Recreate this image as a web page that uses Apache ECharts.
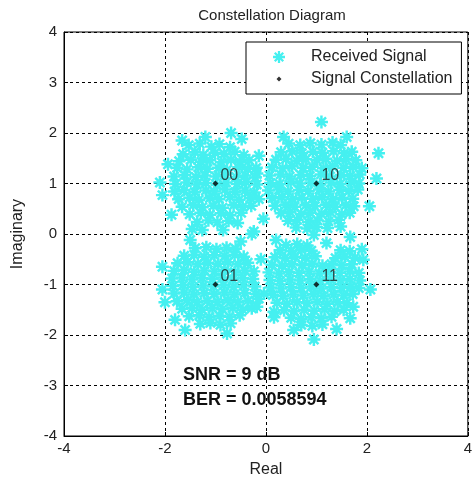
<!DOCTYPE html>
<html>
<head>
<meta charset="utf-8">
<script src="https://cdn.jsdelivr.net/npm/echarts@6/dist/echarts.min.js"></script>
<style>
  html, body { margin: 0; padding: 0; background: #fff; }
  #chart { width: 475px; height: 483px; }
</style>
</head>
<body>
<div id="chart"></div>
<script>
// received symbols
var received00 = [
  [-1.53,1.76],[-1.31,1.79],[-1.08,1.73],[-0.92,1.78],[-0.71,1.72],
  [-1.64,1.58],[-1.41,1.62],[-1.24,1.57],[-1.01,1.61],[-0.83,1.59],[-0.62,1.63],[-0.44,1.56],
  [-1.72,1.44],[-1.49,1.47],[-1.28,1.43],[-1.11,1.46],[-0.88,1.42],[-0.69,1.47],[-0.52,1.43],[-0.33,1.46],
  [-1.76,1.31],[-1.56,1.28],[-1.34,1.32],[-1.16,1.29],[-0.94,1.31],[-0.77,1.27],[-0.54,1.32],[-0.36,1.29],[-0.19,1.31],
  [-1.82,1.14],[-1.61,1.17],[-1.39,1.13],[-1.21,1.16],[-0.99,1.14],[-0.81,1.17],[-0.59,1.13],[-0.41,1.16],[-0.21,1.12],
  [-1.79,0.99],[-1.57,1.02],[-1.37,0.98],[-1.19,1.01],[-0.97,0.97],[-0.79,1.02],[-0.57,0.99],[-0.39,1.03],[-0.18,0.98],
  [-1.81,0.84],[-1.62,0.87],[-1.41,0.83],[-1.19,0.86],[-1.02,0.84],[-0.81,0.88],[-0.61,0.83],[-0.41,0.86],[-0.23,0.82],
  [-1.73,0.69],[-1.51,0.72],[-1.33,0.68],[-1.11,0.71],[-0.93,0.69],[-0.71,0.73],[-0.53,0.68],[-0.31,0.71],
  [-1.66,0.54],[-1.44,0.57],[-1.26,0.53],[-1.04,0.56],[-0.86,0.52],[-0.64,0.57],[-0.46,0.54],[-0.29,0.56],
  [-1.51,0.39],[-1.29,0.42],[-1.11,0.38],[-0.89,0.41],[-0.71,0.37],[-0.49,0.42],
  [-1.36,0.24],[-1.14,0.27],[-0.96,0.23],[-0.74,0.26],[-0.56,0.22],
  [-2.10,1.02],[-2.05,0.77],[-1.87,0.38],[-0.69,2.00],[-1.66,1.85],[-0.24,0.05],[-1.46,0.10],
  [-0.48,1.88],[-0.14,1.55],[-1.94,1.38],[-0.85,0.08],[-1.20,1.92]
];
var received10 = [
  [0.45,1.79],[0.68,1.76],[0.88,1.80],[1.10,1.77],[1.32,1.81],[1.48,1.76],
  [0.30,1.62],[0.52,1.64],[0.71,1.60],[0.93,1.63],[1.12,1.61],[1.34,1.64],[1.55,1.60],[1.70,1.63],
  [0.20,1.47],[0.40,1.49],[0.61,1.45],[0.79,1.48],[1.01,1.46],[1.19,1.49],[1.41,1.45],[1.59,1.48],[1.78,1.46],
  [0.12,1.32],[0.33,1.30],[0.52,1.34],[0.74,1.31],[0.92,1.33],[1.14,1.30],[1.32,1.34],[1.54,1.31],[1.72,1.33],[1.90,1.30],
  [0.07,1.16],[0.29,1.18],[0.47,1.14],[0.69,1.17],[0.87,1.15],[1.09,1.18],[1.27,1.14],[1.49,1.17],[1.67,1.15],[1.86,1.18],
  [0.09,1.01],[0.27,0.99],[0.49,1.03],[0.67,1.00],[0.89,1.02],[1.07,0.98],[1.29,1.02],[1.47,0.99],[1.69,1.03],[1.84,1.00],
  [0.05,0.86],[0.26,0.88],[0.44,0.84],[0.66,0.87],[0.84,0.85],[1.06,0.88],[1.24,0.84],[1.46,0.87],[1.64,0.85],[1.82,0.88],
  [0.13,0.71],[0.31,0.73],[0.53,0.69],[0.71,0.72],[0.93,0.70],[1.11,0.73],[1.33,0.69],[1.51,0.72],[1.72,0.70],
  [0.18,0.56],[0.39,0.58],[0.57,0.54],[0.79,0.57],[0.97,0.55],[1.19,0.58],[1.37,0.54],[1.58,0.57],[1.74,0.55],
  [0.30,0.41],[0.48,0.43],[0.70,0.39],[0.88,0.42],[1.10,0.40],[1.28,0.43],[1.50,0.39],[1.66,0.42],
  [0.44,0.26],[0.62,0.28],[0.84,0.24],[1.02,0.27],[1.24,0.25],[1.44,0.28],
  [0.60,0.13],[0.82,0.11],[1.00,0.14],[1.22,0.12],[1.48,0.15],
  [1.10,2.22],[2.23,1.60],[2.19,1.10],[-0.18,1.20],[-0.14,0.69],[0.35,1.92],[1.60,1.92],
  [2.05,0.55],[-0.05,0.30],[0.95,-0.02]
];
var received01 = [
  [-1.40,-0.28],[-1.18,-0.26],[-0.98,-0.30],[-0.78,-0.27],[-0.60,-0.29],
  [-1.62,-0.43],[-1.42,-0.41],[-1.22,-0.45],[-1.02,-0.42],[-0.82,-0.44],[-0.62,-0.41],[-0.44,-0.45],
  [-1.75,-0.58],[-1.55,-0.56],[-1.35,-0.60],[-1.15,-0.57],[-0.95,-0.59],[-0.75,-0.56],[-0.55,-0.60],[-0.36,-0.57],
  [-1.82,-0.73],[-1.62,-0.71],[-1.42,-0.75],[-1.22,-0.72],[-1.02,-0.74],[-0.82,-0.71],[-0.62,-0.75],[-0.42,-0.72],[-0.24,-0.74],
  [-1.86,-0.88],[-1.66,-0.86],[-1.46,-0.90],[-1.26,-0.87],[-1.06,-0.89],[-0.86,-0.86],[-0.66,-0.90],[-0.46,-0.87],[-0.26,-0.89],
  [-1.84,-1.03],[-1.64,-1.01],[-1.44,-1.05],[-1.24,-1.02],[-1.04,-1.04],[-0.84,-1.01],[-0.64,-1.05],[-0.44,-1.02],[-0.22,-1.04],
  [-1.82,-1.18],[-1.62,-1.16],[-1.42,-1.20],[-1.22,-1.17],[-1.02,-1.19],[-0.82,-1.16],[-0.62,-1.20],[-0.42,-1.17],[-0.20,-1.19],
  [-1.76,-1.33],[-1.56,-1.31],[-1.36,-1.35],[-1.16,-1.32],[-0.96,-1.34],[-0.76,-1.31],[-0.56,-1.35],[-0.36,-1.32],
  [-1.66,-1.48],[-1.46,-1.46],[-1.26,-1.50],[-1.06,-1.47],[-0.86,-1.49],[-0.66,-1.46],[-0.46,-1.50],[-0.28,-1.47],
  [-1.52,-1.63],[-1.32,-1.61],[-1.12,-1.65],[-0.92,-1.62],[-0.72,-1.64],[-0.52,-1.61],
  [-1.30,-1.78],[-1.10,-1.76],[-0.90,-1.80],[-0.70,-1.77],
  [-0.77,-1.97],[-2.05,-1.10],[-0.28,0.00],[-2.05,-0.65],[-1.26,0.08],[-1.50,-0.12],[-0.04,-1.18],
  [-0.18,-1.44],[-1.80,-1.70],[-1.60,-1.90],[-0.50,-0.15],[-2.00,-1.35]
];
var received11 = [
  [0.40,-0.22],[0.62,-0.20],[0.82,-0.23],
  [0.28,-0.32],[0.50,-0.34],[0.70,-0.31],[0.90,-0.33],[1.48,-0.32],[1.66,-0.34],
  [0.18,-0.46],[0.38,-0.48],[0.58,-0.45],[0.78,-0.47],[0.98,-0.44],[1.38,-0.48],[1.56,-0.45],[1.76,-0.47],
  [0.12,-0.61],[0.32,-0.63],[0.52,-0.60],[0.72,-0.62],[0.92,-0.59],[1.12,-0.63],[1.30,-0.60],[1.50,-0.62],[1.70,-0.60],
  [0.06,-0.76],[0.26,-0.78],[0.46,-0.75],[0.66,-0.77],[0.86,-0.74],[1.06,-0.78],[1.26,-0.75],[1.46,-0.77],[1.66,-0.74],[1.84,-0.77],
  [0.08,-0.91],[0.28,-0.93],[0.48,-0.90],[0.68,-0.92],[0.88,-0.89],[1.08,-0.93],[1.28,-0.90],[1.48,-0.92],[1.66,-0.89],[1.86,-0.92],
  [0.10,-1.06],[0.30,-1.08],[0.50,-1.05],[0.70,-1.07],[0.90,-1.04],[1.10,-1.08],[1.30,-1.05],[1.50,-1.07],[1.68,-1.04],[1.84,-1.07],
  [0.14,-1.21],[0.34,-1.23],[0.54,-1.20],[0.74,-1.22],[0.94,-1.19],[1.14,-1.23],[1.34,-1.20],[1.54,-1.22],[1.72,-1.19],
  [0.22,-1.36],[0.42,-1.38],[0.62,-1.35],[0.82,-1.37],[1.02,-1.34],[1.22,-1.38],[1.42,-1.35],[1.60,-1.37],
  [0.36,-1.51],[0.56,-1.53],[0.76,-1.50],[0.96,-1.52],[1.16,-1.49],[1.36,-1.53],[1.54,-1.50],
  [0.50,-1.66],[0.70,-1.68],[0.90,-1.65],[1.10,-1.67],[1.30,-1.64],
  [0.70,-1.80],[0.92,-1.82],[1.12,-1.79],
  [0.95,-2.09],[2.07,-1.10],[0.20,-0.12],[1.67,-0.06],[1.93,-0.51],[1.73,-1.44],[1.67,-1.67],
  [-0.14,-1.28],[0.16,-1.54],[0.16,-1.65],[1.20,-0.18],[1.90,-0.30],[0.55,-1.90],[1.40,-1.88],[-0.10,-0.50]
];

// ideal QPSK points and their bit labels
var constReal = [-1, 1, -1, 1];
var constImag = [1, 1, -1, -1];
var constBits = ['00', '10', '01', '11'];

var snrText = 'SNR = 9 dB';
var berText = 'BER = 0.0058594';

// MATLAB '*' marker, drawn with fat bars so the clouds fill in
var asterisk = 'path://M-0.19,-1L0.19,-1L0.19,1L-0.19,1Z' +
    'M-1,-0.19L1,-0.19L1,0.19L-1,0.19Z' +
    'M-0.57,-0.84L0.84,0.57L0.57,0.84L-0.84,-0.57Z' +
    'M-0.84,0.57L0.57,-0.84L0.84,-0.57L-0.57,0.84Z';
// same diamond with empty corner points so the legend draws it small
var smallDiamond = 'path://M-2.4,-2.4L-2.4,-2.4ZM2.4,2.4L2.4,2.4ZM0,-1L1,0L0,1L-1,0Z';

var cyan = '#45f0f0';
var textColor = '#222';
var fontName = '"Liberation Sans", Arial, sans-serif';

var chart = echarts.init(document.getElementById('chart'));

var constData = constReal.map(function (x, i) {
    return { value: [x, constImag[i]], bits: constBits[i] };
});

var option = {
    animation: false,
    backgroundColor: '#fff',
    title: {
        text: 'Constellation Diagram',
        left: 267,
        textAlign: 'center',
        top: 3,
        textStyle: { fontSize: 15, fontWeight: 'normal', color: textColor, fontFamily: fontName }
    },
    legend: {
        left: 246,
        top: 42,
        orient: 'vertical',
        backgroundColor: '#fff',
        borderColor: '#000',
        borderWidth: 1,
        borderRadius: 0,
        padding: [7, 9, 7, 27],
        itemWidth: 44,
        itemHeight: 12,
        itemGap: 6,
        textStyle: { fontSize: 16, color: textColor, fontFamily: fontName, padding: [0, 0, 0, 5] },
        data: [
            { name: 'Received Signal', icon: asterisk },
            { name: 'Signal Constellation', icon: smallDiamond }
        ]
    },
    grid: { left: 64, right: 5, top: 32, bottom: 46, show: true, borderColor: '#000', borderWidth: 1 },
    xAxis: {
        type: 'value',
        min: -4,
        max: 4,
        interval: 2,
        name: 'Real',
        nameLocation: 'middle',
        nameGap: 26,
        nameTextStyle: { fontSize: 16, color: textColor, fontFamily: fontName },
        axisLine: { onZero: false, lineStyle: { color: '#000' } },
        axisTick: { inside: true, length: 4, lineStyle: { color: '#000' } },
        axisLabel: { fontSize: 15, color: textColor, fontFamily: fontName, margin: 5 },
        splitLine: { show: true, lineStyle: { color: '#000', type: [3, 3], width: 1 } }
    },
    yAxis: {
        type: 'value',
        min: -4,
        max: 4,
        interval: 1,
        name: 'Imaginary',
        nameLocation: 'middle',
        nameGap: 38,
        nameTextStyle: { fontSize: 16, color: textColor, fontFamily: fontName },
        axisLine: { onZero: false, lineStyle: { color: '#000' } },
        axisTick: { inside: true, length: 4, lineStyle: { color: '#000' } },
        axisLabel: { fontSize: 15, color: textColor, fontFamily: fontName, margin: 7 },
        splitLine: { show: true, lineStyle: { color: '#000', type: [3, 3], width: 1 } }
    },
    series: [
        {
            name: 'Received Signal',
            type: 'scatter',
            symbol: asterisk,
            symbolSize: 13,
            itemStyle: { color: cyan, opacity: 1 },
            data: received00.concat(received10, received01, received11),
            z: 2
        },
        {
            name: 'Signal Constellation',
            type: 'scatter',
            symbol: 'diamond',
            symbolSize: 6,
            itemStyle: { color: '#000' },
            label: {
                show: true,
                position: 'right',
                offset: [0, -8],
                distance: 2,
                fontSize: 16,
                color: textColor,
                fontFamily: fontName,
                formatter: function (p) { return p.data.bits; }
            },
            data: constData,
            z: 3
        }
    ],
    graphic: [
        {
            type: 'text',
            left: 183,
            top: 366,
            style: { text: snrText, font: 'bold 18px ' + fontName, fill: '#111' },
            z: 10
        },
        {
            type: 'text',
            left: 183,
            top: 391,
            style: { text: berText, font: 'bold 18px ' + fontName, fill: '#111' },
            z: 10
        }
    ]
};

chart.setOption(option);
</script>
</body>
</html>
